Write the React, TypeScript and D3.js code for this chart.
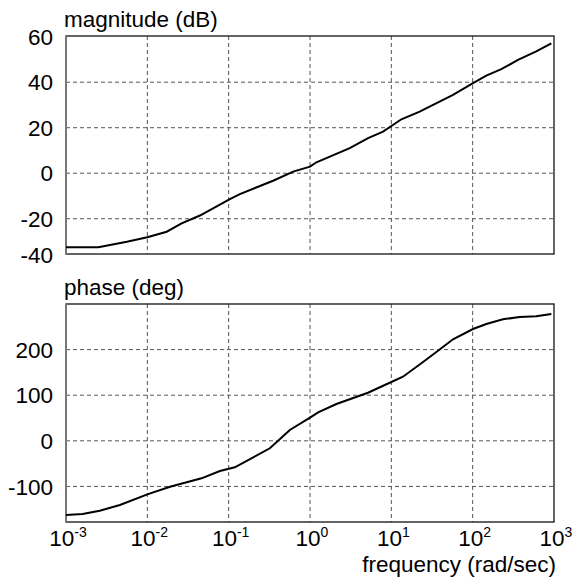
import React, { useEffect, useRef } from 'react';
import * as d3 from 'd3';

// magnitude curve (frequency in rad/sec, magnitude in dB)
const magFreq = [0.001, 0.0025, 0.0056, 0.01, 0.0173, 0.0264, 0.0443, 0.1035, 0.1374, 0.352, 0.621, 1.0, 1.2, 3.08, 5.18, 7.91, 13.3, 22.3, 57.3, 101, 147, 225, 361, 605, 927];
const magDb = [-32.5, -32.5, -30.1, -28.1, -25.7, -22.0, -18.6, -11.4, -9.2, -3.3, 0.7, 2.9, 4.8, 11.0, 15.4, 18.3, 23.7, 27.1, 34.4, 39.6, 42.9, 45.7, 49.8, 53.5, 57.1];

// phase curve (frequency in rad/sec, phase in deg)
const phaseFreq = [0.001, 0.0016, 0.0026, 0.0046, 0.01, 0.019, 0.0464, 0.078, 0.119, 0.321, 0.565, 1.0, 1.26, 2.11, 5.16, 9.55, 13.9, 23.4, 37.5, 57.3, 101, 147, 236, 378, 605, 927];
const phaseDeg = [-162.7, -160.5, -153.3, -140.8, -117.3, -100.7, -82.2, -66.2, -58.1, -16.4, 23.7, 50.7, 62.5, 80.7, 105.5, 127.4, 140.6, 170, 197.6, 222.6, 245.2, 256.1, 266.4, 271.5, 273, 278];

const magTicks = [60, 40, 20, 0, -20];
const phaseTicks = [200, 100, 0, -100];
const freqTicks = [-3, -2, -1, 0, 1, 2, 3];

const font = '"Liberation Sans", Arial, sans-serif';

const App = () => {
  const svgRef = useRef(null);

  useEffect(() => {
    const svg = d3.select(svgRef.current);
    svg.selectAll('*').remove();

    const left = 66;
    const right = 554;
    const x = d3.scaleLog().domain([1e-3, 1e3]).range([left, right]);

    const panels = [
      { top: 36, bottom: 254, domain: [-35.5, 60.3], ticks: magTicks, extra: '-40', title: 'magnitude (dB)', fx: magFreq, fy: magDb },
      { top: 304, bottom: 522, domain: [-178, 300], ticks: phaseTicks, extra: null, title: 'phase (deg)', fx: phaseFreq, fy: phaseDeg },
    ];

    panels.forEach((p, pi) => {
      const y = d3.scaleLinear().domain(p.domain).range([p.bottom, p.top]);
      const g = svg.append('g');

      // grid
      g.selectAll('.vgrid')
        .data(freqTicks.slice(1, -1))
        .enter()
        .append('line')
        .attr('x1', (d) => x(10 ** d))
        .attr('x2', (d) => x(10 ** d))
        .attr('y1', p.top)
        .attr('y2', p.bottom)
        .attr('stroke', '#555')
        .attr('stroke-width', 1)
        .attr('stroke-dasharray', '4,3');

      g.selectAll('.hgrid')
        .data(p.ticks.filter((t) => y(t) > p.top + 2))
        .enter()
        .append('line')
        .attr('x1', left)
        .attr('x2', right)
        .attr('y1', (d) => y(d))
        .attr('y2', (d) => y(d))
        .attr('stroke', '#555')
        .attr('stroke-width', 1)
        .attr('stroke-dasharray', '4,3');

      // frame
      g.append('rect')
        .attr('x', left)
        .attr('y', p.top)
        .attr('width', right - left)
        .attr('height', p.bottom - p.top)
        .attr('fill', 'none')
        .attr('stroke', '#111')
        .attr('stroke-width', 1.3);
      g.append('line')
        .attr('x1', left)
        .attr('x2', left)
        .attr('y1', p.top)
        .attr('y2', p.bottom)
        .attr('stroke', '#777')
        .attr('stroke-width', 2);

      // y tick labels
      g.selectAll('.ylab')
        .data(p.ticks)
        .enter()
        .append('text')
        .attr('x', 53)
        .attr('y', (d) => y(d))
        .attr('dy', '0.36em')
        .attr('text-anchor', 'end')
        .style('font-family', font)
        .style('font-size', '22.5px')
        .text((d) => d);
      if (p.extra) {
        g.append('text')
          .attr('x', 53)
          .attr('y', p.bottom + 1)
          .attr('dy', '0.36em')
          .attr('text-anchor', 'end')
          .style('font-family', font)
          .style('font-size', '22.5px')
          .text(p.extra);
      }

      // title
      g.append('text')
        .attr('x', 64)
        .attr('y', p.top - 9)
        .style('font-family', font)
        .style('font-size', '22.5px')
        .text(p.title);

      // curve
      const pts = p.fx.map((f, i) => [f, p.fy[i]]);
      const line = d3.line()
        .x((d) => x(d[0]))
        .y((d) => y(d[1]));
      g.append('path')
        .datum(pts)
        .attr('d', line)
        .attr('fill', 'none')
        .attr('stroke', '#000')
        .attr('stroke-width', 2);

      // x tick labels under the lower panel
      if (pi === 1) {
        const labs = g.selectAll('.xlab')
          .data(freqTicks)
          .enter()
          .append('text')
          .attr('x', (d) => x(10 ** d) + 2)
          .attr('y', 546)
          .attr('text-anchor', 'middle')
          .style('font-family', font)
          .style('font-size', '22.5px');
        labs.append('tspan').text('10');
        labs.append('tspan')
          .attr('dy', -9)
          .style('font-size', '14px')
          .text((d) => String(d));

        g.append('text')
          .attr('x', 556)
          .attr('y', 572)
          .attr('text-anchor', 'end')
          .style('font-family', font)
          .style('font-size', '22.5px')
          .text('frequency (rad/sec)');
      }
    });
  }, []);

  return (
    <svg
      ref={svgRef}
      width={573}
      height={581}
      style={{ position: 'absolute', left: 0, top: 0, background: '#fff' }}
    ></svg>
  );
};

export default App;
